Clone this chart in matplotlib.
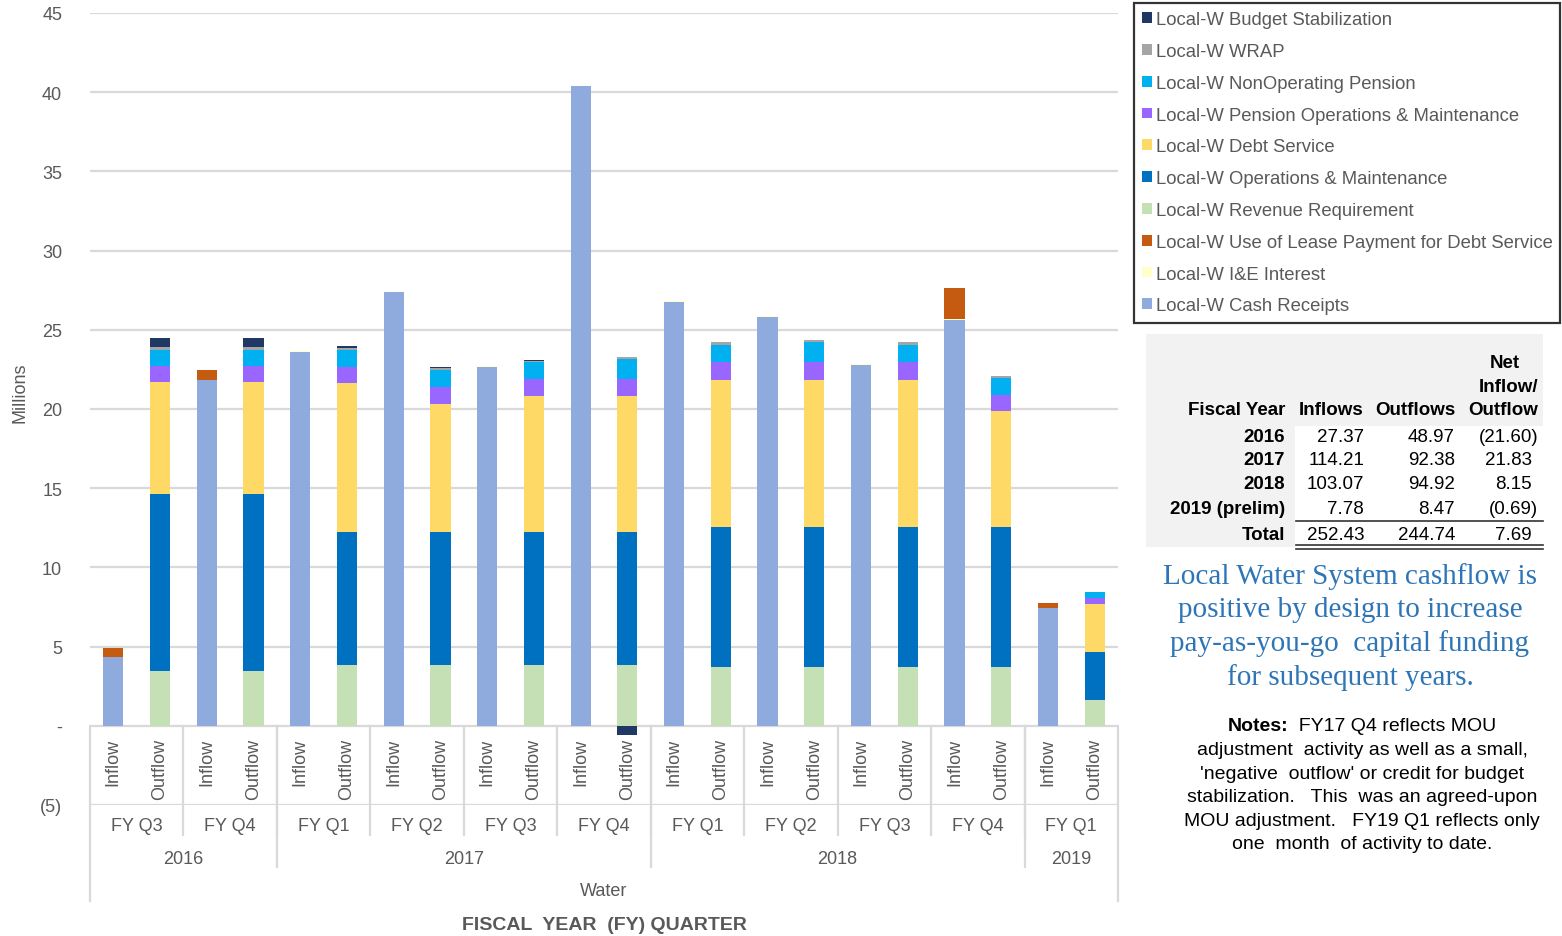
import matplotlib
matplotlib.use('agg')
import matplotlib.pyplot as plt
from matplotlib.patches import Patch, Rectangle

plt.rcParams['font.family'] = ['Liberation Sans', 'DejaVu Sans']

# bar order: each quarter has an Inflow bar then an Outflow bar
quarters = ['FY Q3', 'FY Q4', 'FY Q1', 'FY Q2', 'FY Q3', 'FY Q4',
            'FY Q1', 'FY Q2', 'FY Q3', 'FY Q4', 'FY Q1']
years = ['2016', '2017', '2018', '2019']
quarters_per_year = [2, 4, 4, 1]
flow_labels = ['Inflow', 'Outflow']

# values in millions, 22 bars (inflow, outflow per quarter)
cash_receipts = [4.34, 0, 21.86, 0, 23.63, 0, 27.37, 0, 22.66, 0, 40.38, 0,
                 26.78, 0, 25.81, 0, 22.78, 0, 25.64, 0, 7.43, 0]
ie_interest = [0, 0, 0, 0, 0.04, 0, 0.04, 0, 0.04, 0, 0.04, 0,
               0.03, 0, 0.03, 0, 0.03, 0, 0.03, 0, 0, 0]
lease_payment = [0.58, 0, 0.59, 0, 0, 0, 0, 0, 0, 0, 0, 0,
                 0, 0, 0, 0, 0, 0, 1.94, 0, 0.35, 0]
revenue_req = [0, 3.43, 0, 3.43, 0, 3.85, 0, 3.85, 0, 3.85, 0, 3.85,
               0, 3.74, 0, 3.74, 0, 3.74, 0, 3.74, 0, 1.66]
operations = [0, 11.21, 0, 11.21, 0, 8.37, 0, 8.37, 0, 8.37, 0, 8.37,
              0, 8.80, 0, 8.80, 0, 8.80, 0, 8.80, 0, 2.97]
debt_service = [0, 7.05, 0, 7.05, 0, 9.41, 0, 8.10, 0, 8.58, 0, 8.58,
                0, 9.32, 0, 9.32, 0, 9.32, 0, 7.32, 0, 3.07]
pension_om = [0, 1.01, 0, 1.01, 0, 1.03, 0, 1.05, 0, 1.11, 0, 1.11,
              0, 1.11, 0, 1.11, 0, 1.11, 0, 1.05, 0, 0.36]
nonop_pension = [0, 1.05, 0, 1.05, 0, 1.09, 0, 1.10, 0, 1.03, 0, 1.22,
                 0, 1.10, 0, 1.27, 0, 1.10, 0, 1.05, 0, 0.38]
wrap = [0, 0.15, 0, 0.15, 0, 0.09, 0, 0.10, 0, 0.08, 0, 0.14,
        0, 0.14, 0, 0.10, 0, 0.14, 0, 0.15, 0, 0.03]
budget_stab = [0, 0.57, 0, 0.57, 0, 0.13, 0, 0.09, 0, 0.08, 0, -0.58,
               0, 0, 0, 0, 0, 0, 0, 0, 0, 0]

# stacking order, bottom to top
series = [
    ('Local-W Cash Receipts', cash_receipts, '#8FAADC'),
    ('Local-W I&E Interest', ie_interest, '#FFFFCC'),
    ('Local-W Use of Lease Payment for Debt Service', lease_payment, '#C55A11'),
    ('Local-W Revenue Requirement', revenue_req, '#C5E0B4'),
    ('Local-W Operations & Maintenance', operations, '#0070C0'),
    ('Local-W Debt Service', debt_service, '#FFD966'),
    ('Local-W Pension Operations & Maintenance', pension_om, '#9966FF'),
    ('Local-W NonOperating Pension', nonop_pension, '#00B0F0'),
    ('Local-W WRAP', wrap, '#A5A5A5'),
    ('Local-W Budget Stabilization', budget_stab, '#203864'),
]

# summary table
table_years = ['2016', '2017', '2018', '2019 (prelim)']
table_inflows = [27.37, 114.21, 103.07, 7.78]
table_outflows = [48.97, 92.38, 94.92, 8.47]
table_net = [-21.60, 21.83, 8.15, -0.69]
total_row = [252.43, 244.74, 7.69]

W, H = 1562, 937
GRAY = '#595959'
LINE = '#D9D9D9'
PX = 15.844  # pixels per million on the value axis


def fx(x):
    return x / W


def fy(y):
    return 1 - y / H


fig = plt.figure(figsize=(W / 100, H / 100), dpi=100)
ax = fig.add_axes([fx(90), fy(806), fx(1118 - 90), (806 - 14) / H])
ax.set_xlim(-0.5, 21.5)
ax.set_ylim(-5, 45)

n = len(cash_receipts)
xs = list(range(n))
pos_bottom = [0.0] * n
neg_bottom = [0.0] * n
for name, vals, color in series:
    bottoms = [pos_bottom[i] if v >= 0 else neg_bottom[i] for i, v in enumerate(vals)]
    ax.bar(xs, vals, width=0.43, bottom=bottoms, color=color, label=name, zorder=3)
    for i, v in enumerate(vals):
        if v >= 0:
            pos_bottom[i] += v
        else:
            neg_bottom[i] += v

# y axis
yt = list(range(-5, 50, 5))
ax.set_yticks(yt)
ax.set_yticklabels(['(5)' if t < 0 else ('-' if t == 0 else str(t)) for t in yt])
ax.yaxis.grid(True, color=LINE, lw=1.6, zorder=0)
ax.set_axisbelow(True)
ax.tick_params(axis='y', length=0, pad=20, labelsize=13, labelcolor=GRAY)
ax.set_xticks([])
for s in ax.spines.values():
    s.set_visible(False)
fig.text(fx(20), fy(393), 'Millions', rotation=90, ha='center', va='center',
         fontsize=13, color=GRAY)


# multi-level category axis
def vline(x, y0, y1):
    ax.plot([x, x], [y0, y1], color=LINE, lw=1.6, clip_on=False, zorder=1)


def row(ypix):
    return -(ypix - 727) / PX


for i in xs:
    ax.text(i, row(739), flow_labels[i % 2], rotation=90, ha='center', va='top',
            fontsize=13, color=GRAY, clip_on=False)
for q, lab in enumerate(quarters):
    ax.text(2 * q + 0.5, row(827), lab, ha='center', va='center', fontsize=13,
            color=GRAY, clip_on=False)
    if q > 0:
        vline(2 * q - 0.5, 0, row(836))

start = 0
for yr, nq in zip(years, quarters_per_year):
    x0 = start * 2 - 0.5
    x1 = (start + nq) * 2 - 0.5
    ax.text((x0 + x1) / 2, row(860), yr, ha='center', va='center', fontsize=13,
            color=GRAY, clip_on=False)
    if start > 0:
        vline(x0, 0, row(868))
    start += nq
vline(-0.5, 0, row(902))
vline(21.5, 0, row(902))

ax.text(10.5, row(892), 'Water', ha='center', va='center', fontsize=13,
        color=GRAY, clip_on=False)
ax.text(10.5, row(926), 'FISCAL  YEAR  (FY) QUARTER', ha='center', va='center',
        fontsize=14, fontweight='bold', color=GRAY, clip_on=False)

# legend, top entry is the last stacked series
handles = [Patch(facecolor=c, edgecolor='none', label=nm) for nm, _, c in series][::-1]
leg = fig.legend(handles=handles, loc='upper left',
                 bbox_to_anchor=(fx(1134), fy(321), fx(426), 317 / H),
                 mode='expand', borderaxespad=0, fontsize=13.3, frameon=True,
                 fancybox=False, edgecolor='black', handlelength=0.52,
                 handleheight=0.52, handletextpad=0.22, labelspacing=0.8,
                 borderpad=0.45, labelcolor=GRAY)
leg.get_frame().set_linewidth(1.6)

# summary table
fig.patches.append(Rectangle((fx(1146), fy(548)), fx(1543 - 1146), (548 - 335) / H,
                             transform=fig.transFigure, facecolor='#F2F2F2',
                             edgecolor='none', zorder=0))
fig.patches.append(Rectangle((fx(1295), fy(548)), fx(1543 - 1295), (548 - 427) / H,
                             transform=fig.transFigure, facecolor='white',
                             edgecolor='none', zorder=1))
col_x = [1285, 1364, 1455, 1538]
fs_t = 13.5
for x, lab in zip(col_x, ['Fiscal Year', 'Inflows', 'Outflows', 'Outflow']):
    fig.text(fx(x), fy(411), lab, ha='right', va='center', fontsize=fs_t,
             fontweight='bold')
fig.text(fx(1538), fy(387), 'Inflow/', ha='right', va='center', fontsize=fs_t,
         fontweight='bold')
fig.text(fx(1520), fy(363), 'Net', ha='right', va='center', fontsize=fs_t,
         fontweight='bold')


def acct(v):
    if v < 0:
        return '({:.2f})'.format(-v), 1538
    return '{:.2f}'.format(v), 1532


row_ys = [437, 461, 485, 509]
for ry, yr, a, b, c in zip(row_ys, table_years, table_inflows, table_outflows, table_net):
    fig.text(fx(col_x[0]), fy(ry), yr, ha='right', va='center', fontsize=fs_t,
             fontweight='bold')
    fig.text(fx(col_x[1]), fy(ry), '{:.2f}'.format(a), ha='right', va='center', fontsize=fs_t)
    fig.text(fx(col_x[2]), fy(ry), '{:.2f}'.format(b), ha='right', va='center', fontsize=fs_t)
    s, xr = acct(c)
    fig.text(fx(xr), fy(ry), s, ha='right', va='center', fontsize=fs_t)
fig.text(fx(col_x[0]), fy(535), 'Total', ha='right', va='center', fontsize=fs_t,
         fontweight='bold')
fig.text(fx(col_x[1]), fy(535), '{:.2f}'.format(total_row[0]), ha='right', va='center', fontsize=fs_t)
fig.text(fx(col_x[2]), fy(535), '{:.2f}'.format(total_row[1]), ha='right', va='center', fontsize=fs_t)
s, xr = acct(total_row[2])
fig.text(fx(xr), fy(535), s, ha='right', va='center', fontsize=fs_t)
for ly in [522, 546, 549.5]:
    fig.add_artist(plt.Line2D([fx(1296), fx(1543)], [fy(ly), fy(ly)],
                              transform=fig.transFigure, color='#333333', lw=1.2))

# highlight text
blue_lines = ['Local Water System cashflow is', 'positive by design to increase',
              'pay-as-you-go  capital funding', 'for subsequent years.']
for k, line in enumerate(blue_lines):
    fig.text(fx(1350), fy(577 + 33.5 * k), line, ha='center', va='center',
             fontsize=21, color='#2E75B6', family='Liberation Serif')

# notes, first line has a bold lead-in
fs_n = 14
renderer = fig.canvas.get_renderer()
lead = fig.text(0, fy(727), 'Notes:', ha='left', va='center', fontsize=fs_n,
                fontweight='bold', color='black')
rest = fig.text(0, fy(727), '  FY17 Q4 reflects MOU', ha='left', va='center',
                fontsize=fs_n, color='black')
w_lead = lead.get_window_extent(renderer).width
w_rest = rest.get_window_extent(renderer).width
left = 1362 - (w_lead + w_rest) / 2
lead.set_x(fx(left))
rest.set_x(fx(left + w_lead))

notes = ['adjustment  activity as well as a small,',
         "'negative  outflow' or credit for budget",
         'stabilization.   This  was an agreed-upon',
         'MOU adjustment.   FY19 Q1 reflects only',
         'one  month  of activity to date.']
for k, line in enumerate(notes):
    fig.text(fx(1362), fy(727 + 23.6 * (k + 1)), line, ha='center', va='center',
             fontsize=fs_n, color='black')

fig.savefig('out.png', dpi=100)
